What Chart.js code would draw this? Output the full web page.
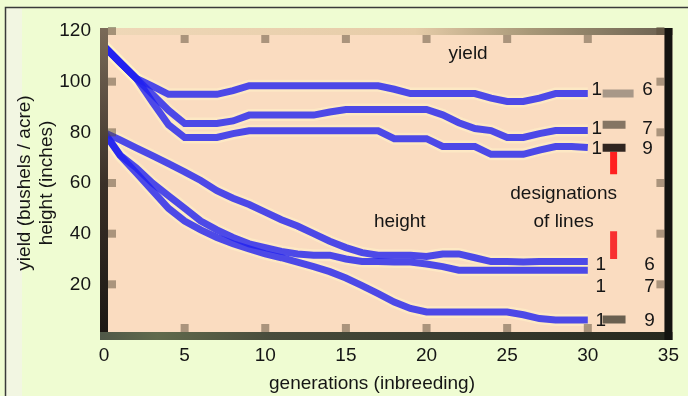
<!DOCTYPE html>
<html><head><meta charset="utf-8">
<script src="https://cdn.jsdelivr.net/npm/chart.js@4.4.1/dist/chart.umd.min.js"></script>
<style>
html,body{margin:0;padding:0;background:#effcd2;}
canvas{display:block;}
</style></head><body>
<canvas id="c" width="688" height="396"></canvas>
<script>
// ---- data ----
const generations = [0,1,2,3,4,5,6,7,8,9,10,11,12,13,14,15,16,17,18,19,20,21,22,23,24,25,26,27,28,29,30];
const yieldLine6  = [114,107.6,101.3,98.2,95,95,95,95,96.5,98.4,98.4,98.4,98.4,98.4,98.4,98.4,98.4,98.4,97,95.3,95.3,95.3,95.3,95.3,93.5,92.2,92.2,93.5,95.3,95.3,95.3];
const yieldLine7  = [114,107.6,101.3,95,88.7,83.5,83.5,83.5,84.5,86.8,86.8,86.8,86.8,86.8,88,89,89,89,89,89,89,86.9,83.8,81.5,80.7,78,78,79.5,80.7,80.7,80.7];
const yieldLine9  = [114,107.6,101.3,92,83,78,78,78,79.5,80.6,80.6,80.6,80.6,80.6,80.6,80.6,80.6,80.6,77.5,77.5,77.5,74.4,74.4,74.4,71.3,71.3,71.3,73,74.4,74.4,74];
const heightLine6 = [80,77,73.9,70.8,67.6,64.4,61,57,54,51.5,48.5,45.5,43,40,37,34.5,32.5,31.5,31.5,31.5,31,32,32,30.5,29,29,28.8,29,29,29,29];
const heightLine7 = [80,71,66,60,55,50,45,41.5,38.5,36,34.5,33,32,31.5,31.5,30,29,29,28.8,28.8,28,27,25.6,25.6,25.6,25.6,25.6,25.6,25.6,25.6,25.6];
const heightLine9 = [80,70.8,64,57,50,45,41.5,38.5,36,34,32,30.5,28.8,27,25,22.5,19.5,16.3,13,10.5,9.1,9.1,9.1,9.1,9.1,9.1,8,6.5,5.9,5.9,5.9];

const xTicks = [0,5,10,15,20,25,30,35];
const yTicks = [20,40,60,80,100,120];

// legend keys: [genStart, genEnd, value]
const yieldKey6 = [30.92, 32.84, 95.3];
const yieldKey7 = [30.92, 32.34, 83.0];
const yieldKey9 = [30.92, 32.34, 73.9];
const heightKey9 = [30.92, 32.34, 6.1];
// red markers: [gen, valueLow, valueHigh]
const yieldMarker = [31.6, 63.5, 72.3];
const heightMarker = [31.6, 30.0, 41.0];

// text labels: [text, gen, value]
const labelTexts = [
  ['yield', 22.58, 109.1],
  ['height', 18.34, 42.7],
  ['designations', 28.5, 53.6],
  ['of lines', 28.5, 42.6],
  ['1', 30.55, 94.9], ['6', 33.7, 94.9],
  ['1', 30.55, 79.4], ['7', 33.7, 79.4],
  ['1', 30.55, 71.5], ['9', 33.7, 71.5],
  ['1', 30.8, 25.7], ['6', 33.83, 25.7],
  ['1', 30.8, 17.0], ['7', 33.83, 17.0],
  ['1', 30.8, 3.6],  ['9', 33.83, 3.6]
];

const FONT = '"Liberation Sans", Arial, sans-serif';
const series = [yieldLine6, yieldLine7, yieldLine9, heightLine6, heightLine7, heightLine9];
const pts = arr => generations.map((g,i)=>({x:g, y:arr[i]}));
const halo = (arr) => ({order:10, data: pts(arr), borderColor:'rgba(255,244,200,0.5)', borderWidth:12, pointRadius:0, tension:0, borderCapStyle:'butt', fill:false});
const trail = (arr) => ({order:1, data: pts(arr), borderColor:'rgba(32,32,240,0.8)', borderWidth:7, pointRadius:0, tension:0, borderCapStyle:'butt', borderJoinStyle:'miter', fill:false});
const seg = (k, color) => ({order:0, data:[{x:k[0],y:k[2]},{x:k[1],y:k[2]}], borderColor:color, borderWidth:8, pointRadius:0, borderCapStyle:'butt'});
const vseg = (m, color) => ({order:0, data:[{x:m[0],y:m[1]},{x:m[0],y:m[2]}], borderColor:color, borderWidth:7, pointRadius:0, borderCapStyle:'butt'});

const framePlugin = {
  id:'frame',
  beforeDraw(chart){
    const {ctx} = chart;
    ctx.save();
    ctx.fillStyle='#f2f6e2'; ctx.fillRect(6,8,16,388);
    ctx.strokeStyle='#3a3a3a'; ctx.lineWidth=1.5;
    ctx.beginPath(); ctx.moveTo(5.5,396); ctx.lineTo(5.5,7.5); ctx.lineTo(688,7.5); ctx.stroke();
    ctx.restore();
  },
  beforeDatasetsDraw(chart){
    const {ctx, chartArea:a} = chart;
    ctx.save();
    ctx.fillStyle = '#fadcc0';
    ctx.fillRect(a.left-4, a.top-3, a.right-a.left+8, a.bottom-a.top+5);
    ctx.restore();
  },
  afterDatasetsDraw(chart){
    const {ctx, chartArea:a, scales} = chart;
    const L=a.left-4, R=a.right-4, T=a.top-3, B=a.bottom-3;
    ctx.save();
    let g = ctx.createLinearGradient(L,0,R+8,0);
    g.addColorStop(0,'#efd8b8'); g.addColorStop(0.55,'#e6cca8'); g.addColorStop(0.75,'#a89878'); g.addColorStop(1,'#6a6050');
    ctx.fillStyle=g; ctx.fillRect(L,T,R+8-L,7);
    g = ctx.createLinearGradient(0,T,0,B+8);
    g.addColorStop(0,'#7a6a58'); g.addColorStop(0.5,'#3a3028'); g.addColorStop(1,'#1a1612');
    ctx.fillStyle=g; ctx.fillRect(L,T,8,B+8-T);
    g = ctx.createLinearGradient(L,0,R+8,0);
    g.addColorStop(0,'#505848'); g.addColorStop(0.1,'#606a4c'); g.addColorStop(0.3,'#484c3c'); g.addColorStop(1,'#26281e');
    ctx.fillStyle=g; ctx.fillRect(L,B,R+8-L,8);
    ctx.fillStyle='#141410'; ctx.fillRect(R,T,8,B+8-T);
    ctx.fillStyle='rgba(90,76,56,0.5)';
    yTicks.forEach(v=>{const y=scales.y.getPixelForValue(v); ctx.fillRect(L+8,y-4,8,8); ctx.fillRect(R-8,y-4,8,8);});
    xTicks.slice(1,-1).forEach(v=>{const x=scales.x.getPixelForValue(v); ctx.fillRect(x-4,T+7,8,8); ctx.fillRect(x-4,B-8,8,8);});
    ctx.fillStyle='#151515';
    ctx.font='19px '+FONT;
    ctx.textAlign='center'; ctx.textBaseline='alphabetic';
    labelTexts.forEach(([t,gx,v])=>{ctx.fillText(t, scales.x.getPixelForValue(gx), scales.y.getPixelForValue(v));});
    ctx.fillText('generations (inbreeding)', 372, 389);
    ctx.restore();
  }
};

new Chart(document.getElementById('c'), {
  type:'line',
  data:{datasets:[
    ...series.map(halo), ...series.map(trail),
    seg(yieldKey6,'#a89888'), seg(yieldKey7,'#857563'), seg(yieldKey9,'#302520'), seg(heightKey9,'#6a6050'),
    vseg(yieldMarker,'#ff2020'), vseg(heightMarker,'#f83030')
  ]},
  options:{
    responsive:false, animation:false, devicePixelRatio:1,
    layout:{padding:{top:31,right:19,bottom:0,left:0}},
    plugins:{legend:{display:false}, tooltip:{enabled:false}},
    scales:{
      x:{type:'linear', min:0, max:35,
        afterFit:s=>{s.height=61;},
        afterBuildTicks:s=>{s.ticks = xTicks.map(v=>({value:v}));},
        grid:{display:false, drawTicks:false}, border:{display:false},
        ticks:{padding:9, color:'#151515', font:{family:FONT, size:19}}},
      y:{type:'linear', min:0, max:120,
        afterFit:s=>{s.width=104;},
        afterBuildTicks:s=>{s.ticks = yTicks.map(v=>({value:v}));},
        grid:{display:false, drawTicks:false}, border:{display:false},
        ticks:{padding:13, color:'#151515', font:{family:FONT, size:19}},
        title:{display:true, text:['yield (bushels / acre)','height (inches)'], color:'#151515',
               font:{family:FONT, size:19, lineHeight:1.15}, padding:{top:14,bottom:0}}}
    }
  },
  plugins:[framePlugin]
});
</script>
</body></html>
